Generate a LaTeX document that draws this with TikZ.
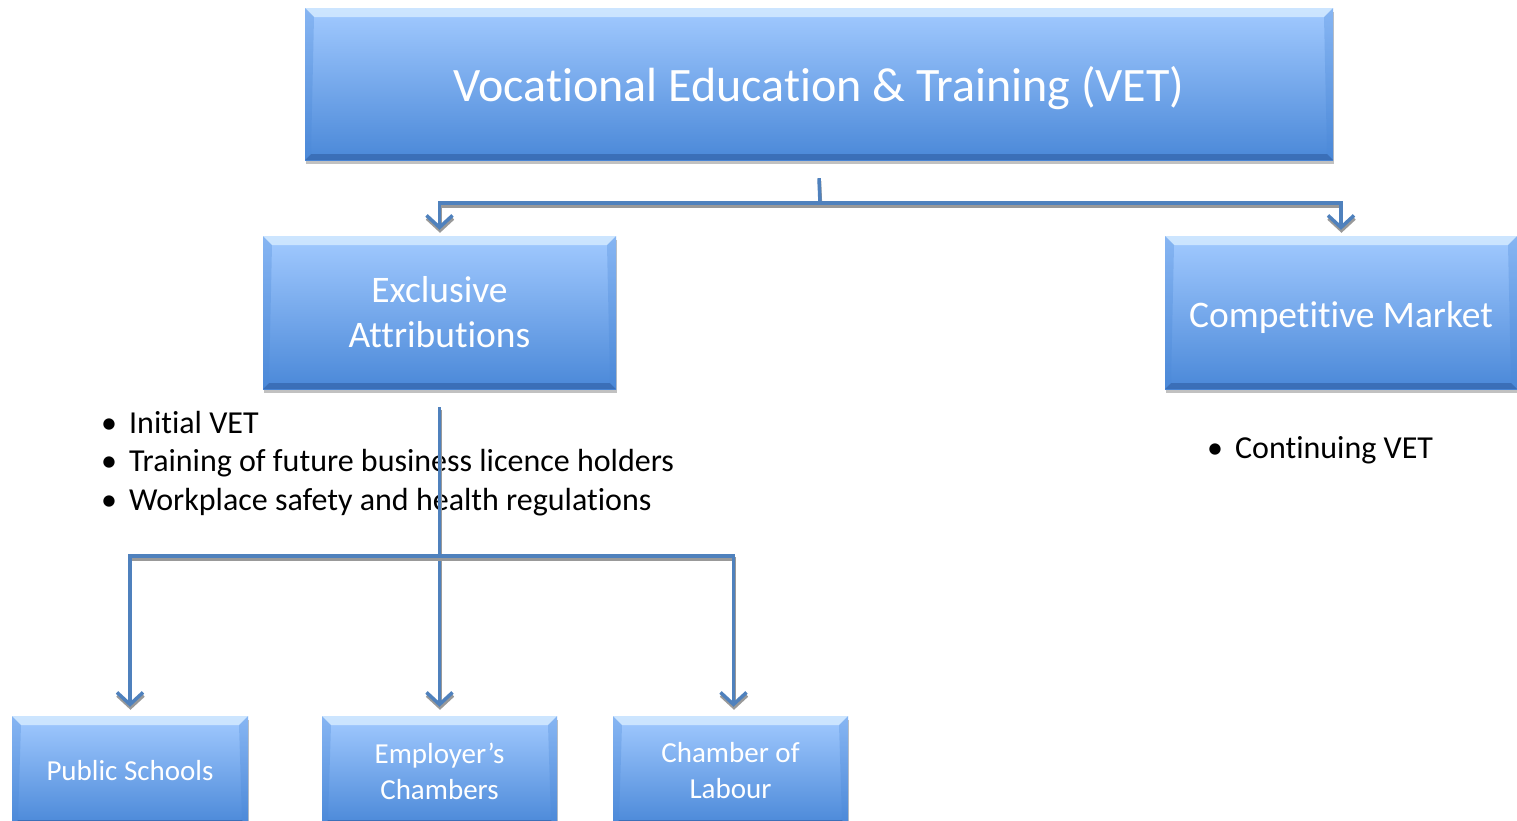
\documentclass[tikz,border=0pt]{standalone}
\usepackage{fontspec}
\setmainfont[Ligatures=NoCommon]{Carlito}
\usetikzlibrary{arrows.meta,shadows}
\definecolor{lineblue}{RGB}{79,129,189}
\definecolor{boxtop}{RGB}{162,202,255}
\definecolor{boxbot}{RGB}{74,136,216}
\definecolor{bevtop}{RGB}{215,236,255}
\definecolor{bevbot}{RGB}{52,100,170}
\tikzset{
  vbox/.style={draw=none, top color=boxtop, bottom color=boxbot, text=white,
    align=center, inner sep=0pt,
    drop shadow={shadow xshift=1pt,shadow yshift=-4pt,opacity=0.35,fill=black!70},
    path picture={
      \fill[bevtop,opacity=0.8] (path picture bounding box.north west) -- (path picture bounding box.north east)
        -- ([xshift=-9pt,yshift=-9pt]path picture bounding box.north east)
        -- ([xshift=9pt,yshift=-9pt]path picture bounding box.north west) -- cycle;
      \fill[bevbot,opacity=0.7] (path picture bounding box.south west) -- (path picture bounding box.south east)
        -- ([xshift=-6pt,yshift=6pt]path picture bounding box.south east)
        -- ([xshift=6pt,yshift=6pt]path picture bounding box.south west) -- cycle;
      \fill[boxbot,opacity=0.3] (path picture bounding box.north west) -- ([xshift=9pt,yshift=-9pt]path picture bounding box.north west)
        -- ([xshift=6pt,yshift=6pt]path picture bounding box.south west) -- (path picture bounding box.south west) -- cycle;
      \fill[boxbot,opacity=0.3] (path picture bounding box.north east) -- ([xshift=-9pt,yshift=-9pt]path picture bounding box.north east)
        -- ([xshift=-6pt,yshift=6pt]path picture bounding box.south east) -- (path picture bounding box.south east) -- cycle;
    }},
  conn/.style={draw=lineblue, line width=3.5pt,
    preaction={draw=black!40, line width=3.5pt, transform canvas={xshift=0.5pt,yshift=-3pt}}},
  arr/.style={conn, -{Straight Barb[length=12pt,width=26pt]}},
  bullets/.style={font=\fontsize{32}{38.5}\selectfont, align=left, inner sep=0pt, text=black},
}
\begin{document}
\begin{tikzpicture}[x=1pt,y=-1pt]
\useasboundingbox (0,0) rectangle (1517,820);
% boxes
\node[vbox, minimum width=1028pt, minimum height=152pt, font=\fontsize{48}{56}\selectfont, text height=35pt, text depth=0pt] (vet) at (819,84) {Vocational Education \& Training (VET)};
\node[vbox, minimum width=353pt, minimum height=153pt, font=\fontsize{37.5}{45}\selectfont] (excl) at (439.5,312.5) {Exclusive\\Attributions};
\node[vbox, minimum width=352pt, minimum height=153pt, font=\fontsize{37.5}{45}\selectfont, text height=29pt, text depth=0pt] (comp) at (1341,312.5) {Competitive Market};
\node[vbox, minimum width=236pt, minimum height=110pt, font=\fontsize{29}{36}\selectfont] (pub) at (130,771) {Public Schools};
\node[vbox, minimum width=235pt, minimum height=110pt, font=\fontsize{29}{36}\selectfont] (emp) at (439.5,771) {Employer’s\\Chambers};
\node[vbox, minimum width=235pt, minimum height=110pt, font=\fontsize{29}{36}\selectfont] (lab) at (730.5,771) {Chamber of\\Labour};
% bullet lists
\node[bullets, anchor=west] (blist) at (101,464) {%
\begin{tabular}{@{}l@{\hspace{12pt}}l@{}}
\textbullet & Initial VET\\
\textbullet & Training of future business licence holders\\
\textbullet & Workplace safety and health regulations
\end{tabular}};
\node[bullets, anchor=west] (clist) at (1207,451) {%
\begin{tabular}{@{}l@{\hspace{12pt}}l@{}}
\textbullet & Continuing VET
\end{tabular}};
% connectors
\coordinate (j1) at (820,203);
\coordinate (j2) at (440,556);
\draw[conn] ([yshift=-18pt]vet.south) -- (j1);
\draw[arr, shorten >=6pt] (j1) -| (excl.north);
\draw[arr, shorten >=6pt] (j1) -| (comp.north);
\draw[arr, shorten <=18pt, shorten >=9pt] (excl.south) -- (emp.north);
\draw[arr, shorten >=9pt] (j2) -| (pub.north);
\draw[arr, shorten >=9pt] (j2) -| ([xshift=3pt]lab.north);
\end{tikzpicture}
\end{document}
